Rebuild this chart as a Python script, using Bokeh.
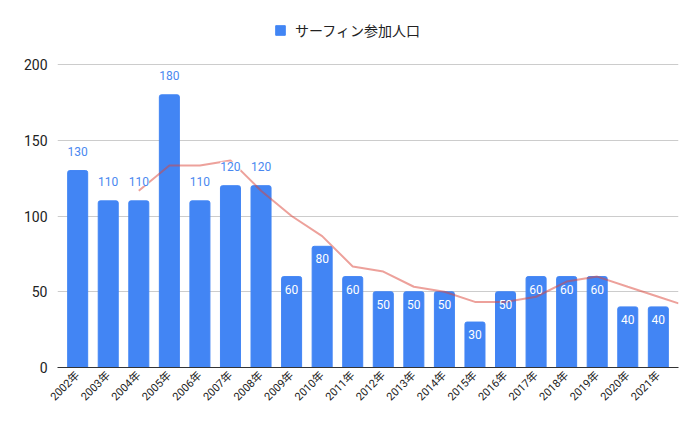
from bokeh.plotting import figure
from bokeh.models import ColumnDataSource, LabelSet, Legend, LegendItem, FixedTicker, Range1d
from bokeh.core.properties import value
from bokeh.embed import file_html
from bokeh.resources import INLINE

years = ["2002年", "2003年", "2004年", "2005年", "2006年", "2007年", "2008年", "2009年", "2010年", "2011年",
         "2012年", "2013年", "2014年", "2015年", "2016年", "2017年", "2018年", "2019年", "2020年", "2021年"]
values = [130, 110, 110, 180, 110, 120, 120, 60, 80, 60, 50, 50, 50, 30, 50, 60, 60, 60, 40, 40]
series_name = "サーフィン参加人口"

# moving-average trendline (category index, value)
trend_x = [2, 3, 4, 5, 6, 7, 8, 9, 10, 11, 12, 13, 14, 15, 16, 17, 18, 19, 19.66]
trend_y = [116.7, 133.3, 133.3, 136.7, 116.7, 100, 86.7, 66.7, 63.3, 53.3, 50, 43.3, 43.3, 46.7, 56.7, 60, 53.3, 46.7, 42.3]

y_ticks = [0, 50, 100, 150, 200]

BAR = "#4285F4"
FONT = "Roboto, 'Noto Sans CJK JP'"

xs = list(range(len(years)))
src = ColumnDataSource(dict(x=xs, top=values))
above = [i for i, v in enumerate(values) if v >= 100]
inside = [i for i, v in enumerate(values) if v < 100]
src_above = ColumnDataSource(dict(x=[xs[i] for i in above], y=[values[i] for i in above], lbl=[str(values[i]) for i in above]))
src_inside = ColumnDataSource(dict(x=[xs[i] for i in inside], y=[values[i] for i in inside], lbl=[str(values[i]) for i in inside]))

# frame extends to the top of the canvas so the legend (inside the frame) is not clipped;
# value 200 sits 64px below the top, 0 at 367px.
px_per_unit = (367 - 64) / 200.0
y_top = 200 + 64 / px_per_unit

p = figure(width=700, height=428, output_backend="svg", toolbar_location=None,
           x_range=Range1d(-0.66, 19.66), y_range=Range1d(0, y_top),
           min_border_left=57, min_border_right=22, min_border_top=0, min_border_bottom=61)
p.outline_line_color = None
p.background_fill_color = "white"

bars = p.vbar(x="x", top="top", width=0.655, source=src, color=BAR, border_radius=(2, 2, 0, 0))
p.line(trend_x, trend_y, line_color="#DB4437", line_alpha=0.5, line_width=2)

lab_above = LabelSet(x="x", y="y", text="lbl", source=src_above, y_offset=19.5,
                     text_align="center", text_baseline="middle", text_font=value(FONT),
                     text_font_size=value("12px"), text_color=value("#4a88f0"),
                     background_fill_color="white")
lab_inside = LabelSet(x="x", y="y", text="lbl", source=src_inside, y_offset=-12.5,
                      text_align="center", text_baseline="middle", text_font=value(FONT),
                      text_font_size=value("12px"), text_color=value("white"))
p.add_layout(lab_above)
p.add_layout(lab_inside)

# axes
p.xaxis.ticker = FixedTicker(ticks=xs)
p.xaxis.major_label_overrides = {i: y for i, y in enumerate(years)}
p.xaxis.major_label_orientation = 0.785398
p.xaxis.major_label_text_font = FONT
p.xaxis.major_label_text_font_size = "11px"
p.xaxis.major_label_text_color = "#222222"
p.xaxis.major_tick_line_color = None
p.xaxis.minor_tick_line_color = None
p.xaxis.major_tick_out = 0
p.xaxis.major_label_standoff = 6
p.xaxis.axis_line_color = "#333333"
p.xaxis.axis_line_width = 1

p.yaxis.ticker = FixedTicker(ticks=y_ticks)
p.yaxis.major_label_text_font = FONT
p.yaxis.major_label_text_font_size = "14px"
p.yaxis.major_label_text_color = "#222222"
p.yaxis.axis_line_color = None
p.yaxis.major_tick_line_color = None
p.yaxis.minor_tick_line_color = None
p.yaxis.major_tick_out = 0
p.yaxis.major_label_standoff = 10

p.xgrid.grid_line_color = None
p.ygrid.grid_line_color = "#cccccc"
p.ygrid.ticker = FixedTicker(ticks=y_ticks[1:])

legend = Legend(items=[LegendItem(label=series_name, renderers=[bars])],
                location=(217, 327), orientation="horizontal",
                glyph_width=12, glyph_height=12, label_height=12, label_standoff=9,
                padding=0, margin=0, border_line_color=None, background_fill_alpha=0,
                label_text_font=FONT, label_text_font_size="14px", label_text_color="#222222")
p.add_layout(legend, "center")

open("out.html", "w").write(file_html(p, INLINE))
